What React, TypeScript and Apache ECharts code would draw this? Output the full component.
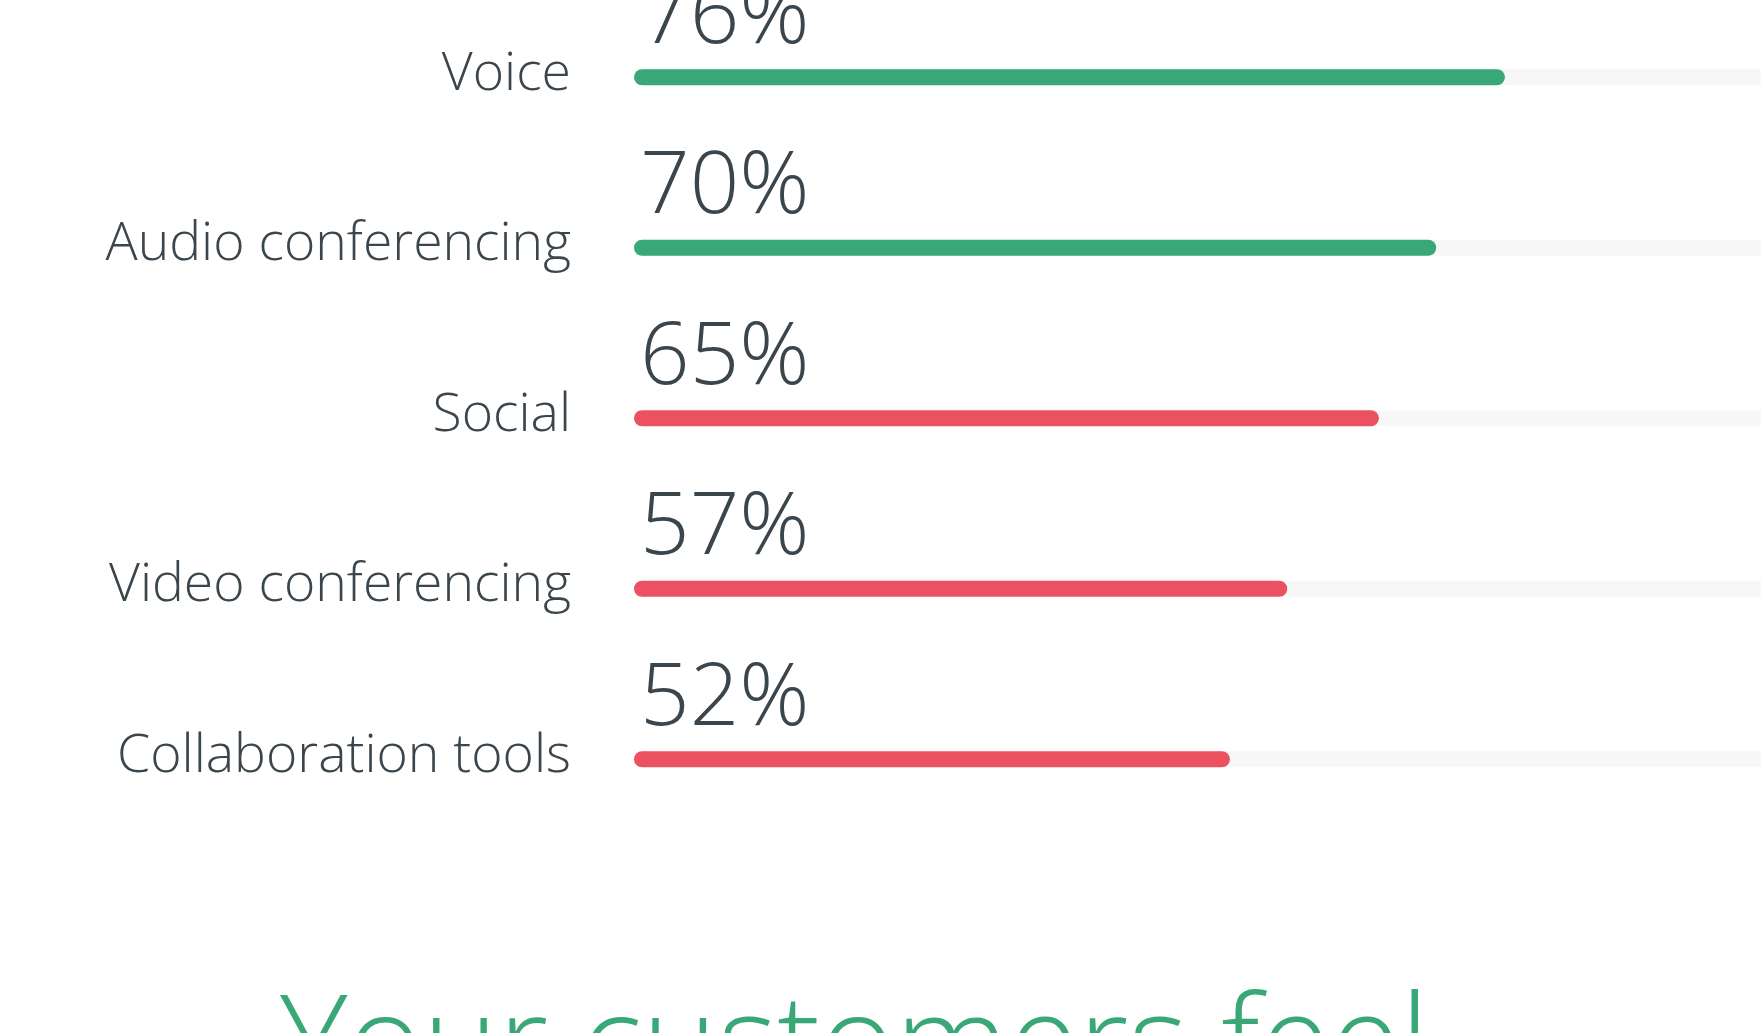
import React, { useEffect, useRef } from "react";
import * as echarts from "echarts";

const categories = [
  "Voice",
  "Audio conferencing",
  "Social",
  "Video conferencing",
  "Collaboration tools",
];
const values = [76, 70, 65, 57, 52];
const axisMax = 100;
const titleText = "Your customers feel";

const GREEN = "#3aa876";
const RED = "#eb5160";
const TEXT = "#3b454c";
const TRACK = "#f7f7f7";
const FONT = "Open Sans";

export default function App() {
  const ref = useRef<HTMLDivElement>(null);
  useEffect(() => {
    document.body.style.margin = "0";
    const chart = echarts.init(ref.current!, null, { renderer: "svg" });
    chart.setOption({
      animation: false,
      backgroundColor: "#ffffff",
      grid: {
        left: 634,
        top: -8,
        width: 1146,
        height: 852.5,
        containLabel: false,
        outerBoundsMode: "none",
      },
      xAxis: { type: "value", min: 0, max: axisMax, show: false },
      yAxis: {
        type: "category",
        data: categories,
        inverse: true,
        axisLine: { show: false },
        axisTick: { show: false },
        splitLine: { show: false },
        axisLabel: {
          margin: 63,
          fontSize: 53.5,
          fontFamily: FONT,
          fontWeight: 300,
          color: TEXT,
          verticalAlign: "bottom",
          lineHeight: 16,
        },
      },
      series: [
        {
          type: "bar",
          data: values,
          barWidth: 16,
          showBackground: true,
          backgroundStyle: { color: TRACK, borderRadius: 8 },
          itemStyle: {
            borderRadius: 8,
            color: (p: any) => (p.dataIndex < 2 ? GREEN : RED),
          },
          label: {
            show: true,
            formatter: "{c}%",
            position: [6, -17],
            align: "left",
            verticalAlign: "bottom",
            fontSize: 87,
            fontFamily: FONT,
            fontWeight: 300,
            color: TEXT,
          },
        },
      ],
      graphic: [
        {
          type: "text",
          x: 280,
          y: 972,
          style: {
            text: titleText,
            fontSize: 128,
            fontFamily: FONT,
            fontWeight: 300,
            fill: GREEN,
            verticalAlign: "top",
          },
        },
      ],
    });
    return () => chart.dispose();
  }, []);
  return (
    <div
      ref={ref}
      style={{ position: "fixed", left: 0, top: 0, width: 1761, height: 1033, overflow: "hidden" }}
    />
  );
}
